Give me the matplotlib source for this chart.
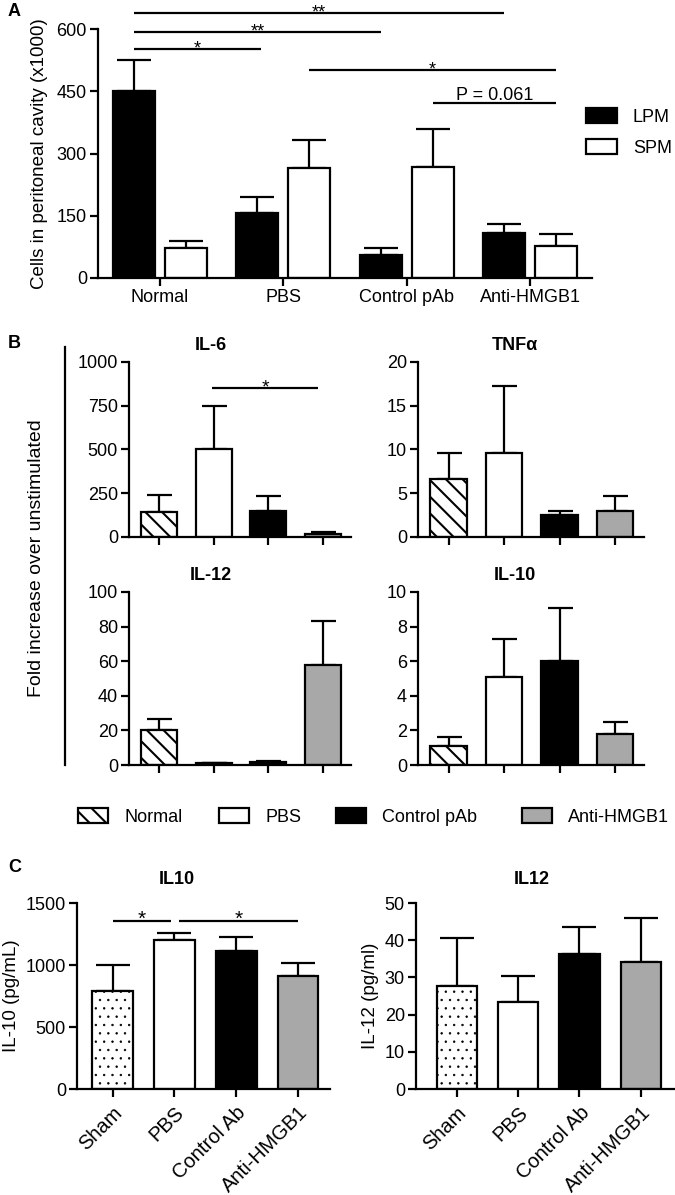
import matplotlib
matplotlib.use("Agg")
import matplotlib.pyplot as plt
from matplotlib.patches import Patch
from matplotlib.lines import Line2D
import numpy as np

plt.rcParams['font.family'] = ['Liberation Sans', 'DejaVu Sans']
plt.rcParams['hatch.linewidth'] = 1.5

W, H = 675, 1195

# ---- panel A data ----
a_groups = ['Normal', 'PBS', 'Control pAb', 'Anti-HMGB1']
lpm_mean = [450, 157, 55, 108]
lpm_sem = [75, 38, 18, 22]
spm_mean = [72, 265, 268, 77]
spm_sem = [16, 68, 90, 29]
a_yticks = [0, 150, 300, 450, 600]

# ---- panel B data ----
b_groups = ['Normal', 'PBS', 'Control pAb', 'Anti-HMGB1']
il6_mean = [140, 500, 150, 18]
il6_sem = [100, 250, 87, 10]
tnf_mean = [6.6, 9.6, 2.5, 3.0]
tnf_sem = [3.0, 7.6, 0.5, 1.7]
il12_mean = [20.5, 1.0, 1.7, 58]
il12_sem = [6.0, 0.3, 0.7, 25.5]
il10_mean = [1.1, 5.1, 6.0, 1.8]
il10_sem = [0.5, 2.2, 3.1, 0.7]

# ---- panel C data ----
c_groups = ['Sham', 'PBS', 'Control Ab', 'Anti-HMGB1']
c_il10_mean = [790, 1205, 1115, 915]
c_il10_sem = [210, 50, 110, 100]
c_il12_mean = [27.8, 23.4, 36.4, 34.1]
c_il12_sem = [12.9, 7.0, 7.2, 11.9]

GRAY = '#a8a8a8'
LW = 1.6
FS = 13

fig = plt.figure(figsize=(W / 100, H / 100), dpi=100)


def ax_px(l, t, r, b):
    return fig.add_axes([l / W, 1 - b / H, (r - l) / W, (b - t) / H])


def style(ax):
    for s in ['top', 'right']:
        ax.spines[s].set_visible(False)
    for s in ['left', 'bottom']:
        ax.spines[s].set_linewidth(LW)
    ax.tick_params(direction='out', length=6, width=LW, labelsize=FS, pad=2)


def sig(ax, x0, x1, y, label, dy=-3, fs=FS):
    ax.plot([x0, x1], [y, y], color='k', lw=LW, clip_on=False, solid_capstyle='butt')
    ax.annotate(label, xy=((x0 + x1) / 2, y), xytext=(0, dy), textcoords='offset points',
                ha='center', va='baseline', fontsize=fs, annotation_clip=False)


def bars4(ax, means, sems, styles, width, capsize):
    x = np.arange(len(means))
    ax.errorbar(x, means, yerr=[np.zeros(len(sems)), sems], fmt='none', ecolor='k',
                elinewidth=LW, capsize=capsize, capthick=LW, zorder=1)
    for xi, m, (fc, hatch) in zip(x, means, styles):
        ax.bar(xi, m, width=width, color=fc, edgecolor='k', linewidth=LW,
               hatch=hatch, zorder=2)


# ================= Panel A =================
axA = ax_px(98, 29, 592, 278)
style(axA)
xa = np.arange(len(a_groups))
off = 0.21
wA = 0.34
axA.errorbar(xa - off, lpm_mean, yerr=[np.zeros(4), lpm_sem], fmt='none', ecolor='k',
             elinewidth=LW, capsize=12, capthick=LW, zorder=1)
axA.errorbar(xa + off, spm_mean, yerr=[np.zeros(4), spm_sem], fmt='none', ecolor='k',
             elinewidth=LW, capsize=12, capthick=LW, zorder=1)
axA.bar(xa - off, lpm_mean, width=wA, color='k', edgecolor='k', linewidth=LW, zorder=2, label='LPM')
axA.bar(xa + off, spm_mean, width=wA, color='white', edgecolor='k', linewidth=LW, zorder=2, label='SPM')
axA.set_xlim(-0.5, 3.5)
axA.set_ylim(0, 600)
axA.set_yticks(a_yticks)
axA.set_xticks(xa)
axA.set_xticklabels(a_groups)
axA.set_ylabel('Cells in peritoneal cavity (x1000)', fontsize=13.5, labelpad=6)

sig(axA, -off, 3 - off, 638, '**')
sig(axA, -off, 2 - off, 593, '**')
sig(axA, -off, 1 - off + 0.03, 552, '*')
sig(axA, 1 + off, 3 + off, 501, '*')
sig(axA, 2 + off, 3 + off, 422, 'P = 0.061', dy=2)

axA.legend(loc='upper left', bbox_to_anchor=(586 / W, 1 - 108 / H), bbox_transform=fig.transFigure,
           frameon=False, fontsize=FS, handlelength=1.7, handleheight=0.9,
           handletextpad=0.9, labelspacing=0.75, borderaxespad=0, borderpad=0)

fig.text(8 / W, 1 - 12 / H, 'A', fontsize=13, fontweight='bold', va='center', ha='left')

# ================= Panel B =================
fig.text(8 / W, 1 - 343 / H, 'B', fontsize=13, fontweight='bold', va='center', ha='left')
fig.add_artist(Line2D([65 / W, 65 / W], [1 - 347 / H, 1 - 765 / H], color='k', lw=LW,
                      transform=fig.transFigure))
fig.text(37 / W, 1 - 558 / H, 'Fold increase over unstimulated', rotation=90, fontsize=14,
         ha='center', va='center')

b_styles = [('white', '\\\\'), ('white', ''), ('k', ''), (GRAY, '')]

b_panels = [
    ((129, 362, 351, 537), il6_mean, il6_sem, 1000, [0, 250, 500, 750, 1000], 'IL-6', 211),
    ((418, 362, 644, 537), tnf_mean, tnf_sem, 20, [0, 5, 10, 15, 20], 'TNFα', 515),
    ((129, 592, 351, 765), il12_mean, il12_sem, 100, [0, 20, 40, 60, 80, 100], 'IL-12', 211),
    ((418, 592, 644, 765), il10_mean, il10_sem, 10, [0, 2, 4, 6, 8, 10], 'IL-10', 515),
]
b_axes = []
for box, m, s, top, ticks, title, tx in b_panels:
    ax = ax_px(*box)
    style(ax)
    bars4(ax, m, s, b_styles, 0.66, 9)
    ax.set_xlim(-0.55, 3.52)
    ax.set_ylim(0, top)
    ax.set_yticks(ticks)
    ax.set_xticks(range(4))
    ax.set_xticklabels([])
    fig.text(tx / W, 1 - (box[1] - 17) / H, title, fontsize=13, fontweight='bold',
             ha='center', va='center')
    b_axes.append(ax)

sig(b_axes[0], 0.98, 2.92, 851, '*', fs=14)

# legend row of panel B, one entry at a time so the spacing follows the reference
b_key_x = [78, 219, 336, 522]
for (fc, h), name, kx in zip(b_styles, b_groups, b_key_x):
    fig.legend([Patch(facecolor=fc, edgecolor='k', hatch=h, linewidth=LW)], [name],
               loc='center left', bbox_to_anchor=(kx / W, 1 - 817 / H), frameon=False,
               fontsize=FS, handlelength=1.65, handleheight=0.9, handletextpad=0.9,
               borderpad=0, borderaxespad=0)

# ================= Panel C =================
fig.text(8 / W, 1 - 867 / H, 'C', fontsize=13, fontweight='bold', va='center', ha='left')
c_styles = [('white', '..'), ('white', ''), ('k', ''), (GRAY, '')]
plt.rcParams['hatch.linewidth'] = 0.5

c_panels = [
    ((77, 903, 330, 1089), c_il10_mean, c_il10_sem, 1500, [0, 500, 1000, 1500], 'IL10', 177,
     'IL-10 (pg/mL)', (-0.58, 3.52)),
    ((416, 903, 675, 1089), c_il12_mean, c_il12_sem, 50, [0, 10, 20, 30, 40, 50], 'IL12', 532,
     'IL-12 (pg/ml)', (-0.67, 3.56)),
]
c_axes = []
for box, m, s, top, ticks, title, tx, ylab, xl in c_panels:
    ax = ax_px(*box)
    style(ax)
    bars4(ax, m, s, c_styles, 0.66, 12)
    ax.set_xlim(*xl)
    ax.set_ylim(0, top)
    ax.set_yticks(ticks)
    ax.set_xticks(range(4))
    ax.set_xticklabels(c_groups, rotation=45, ha='right', rotation_mode='anchor', fontsize=14.5)
    ax.tick_params(axis='x', pad=4)
    ax.set_ylabel(ylab, fontsize=13.5, labelpad=4)
    fig.text(tx / W, 1 - 880 / H, title, fontsize=13, fontweight='bold', ha='center', va='center')
    c_axes.append(ax)

sig(c_axes[0], 0, 0.95, 1355, '*', fs=15)
sig(c_axes[0], 1.08, 3.0, 1355, '*', fs=15)

fig.savefig('out.png', dpi=100)
